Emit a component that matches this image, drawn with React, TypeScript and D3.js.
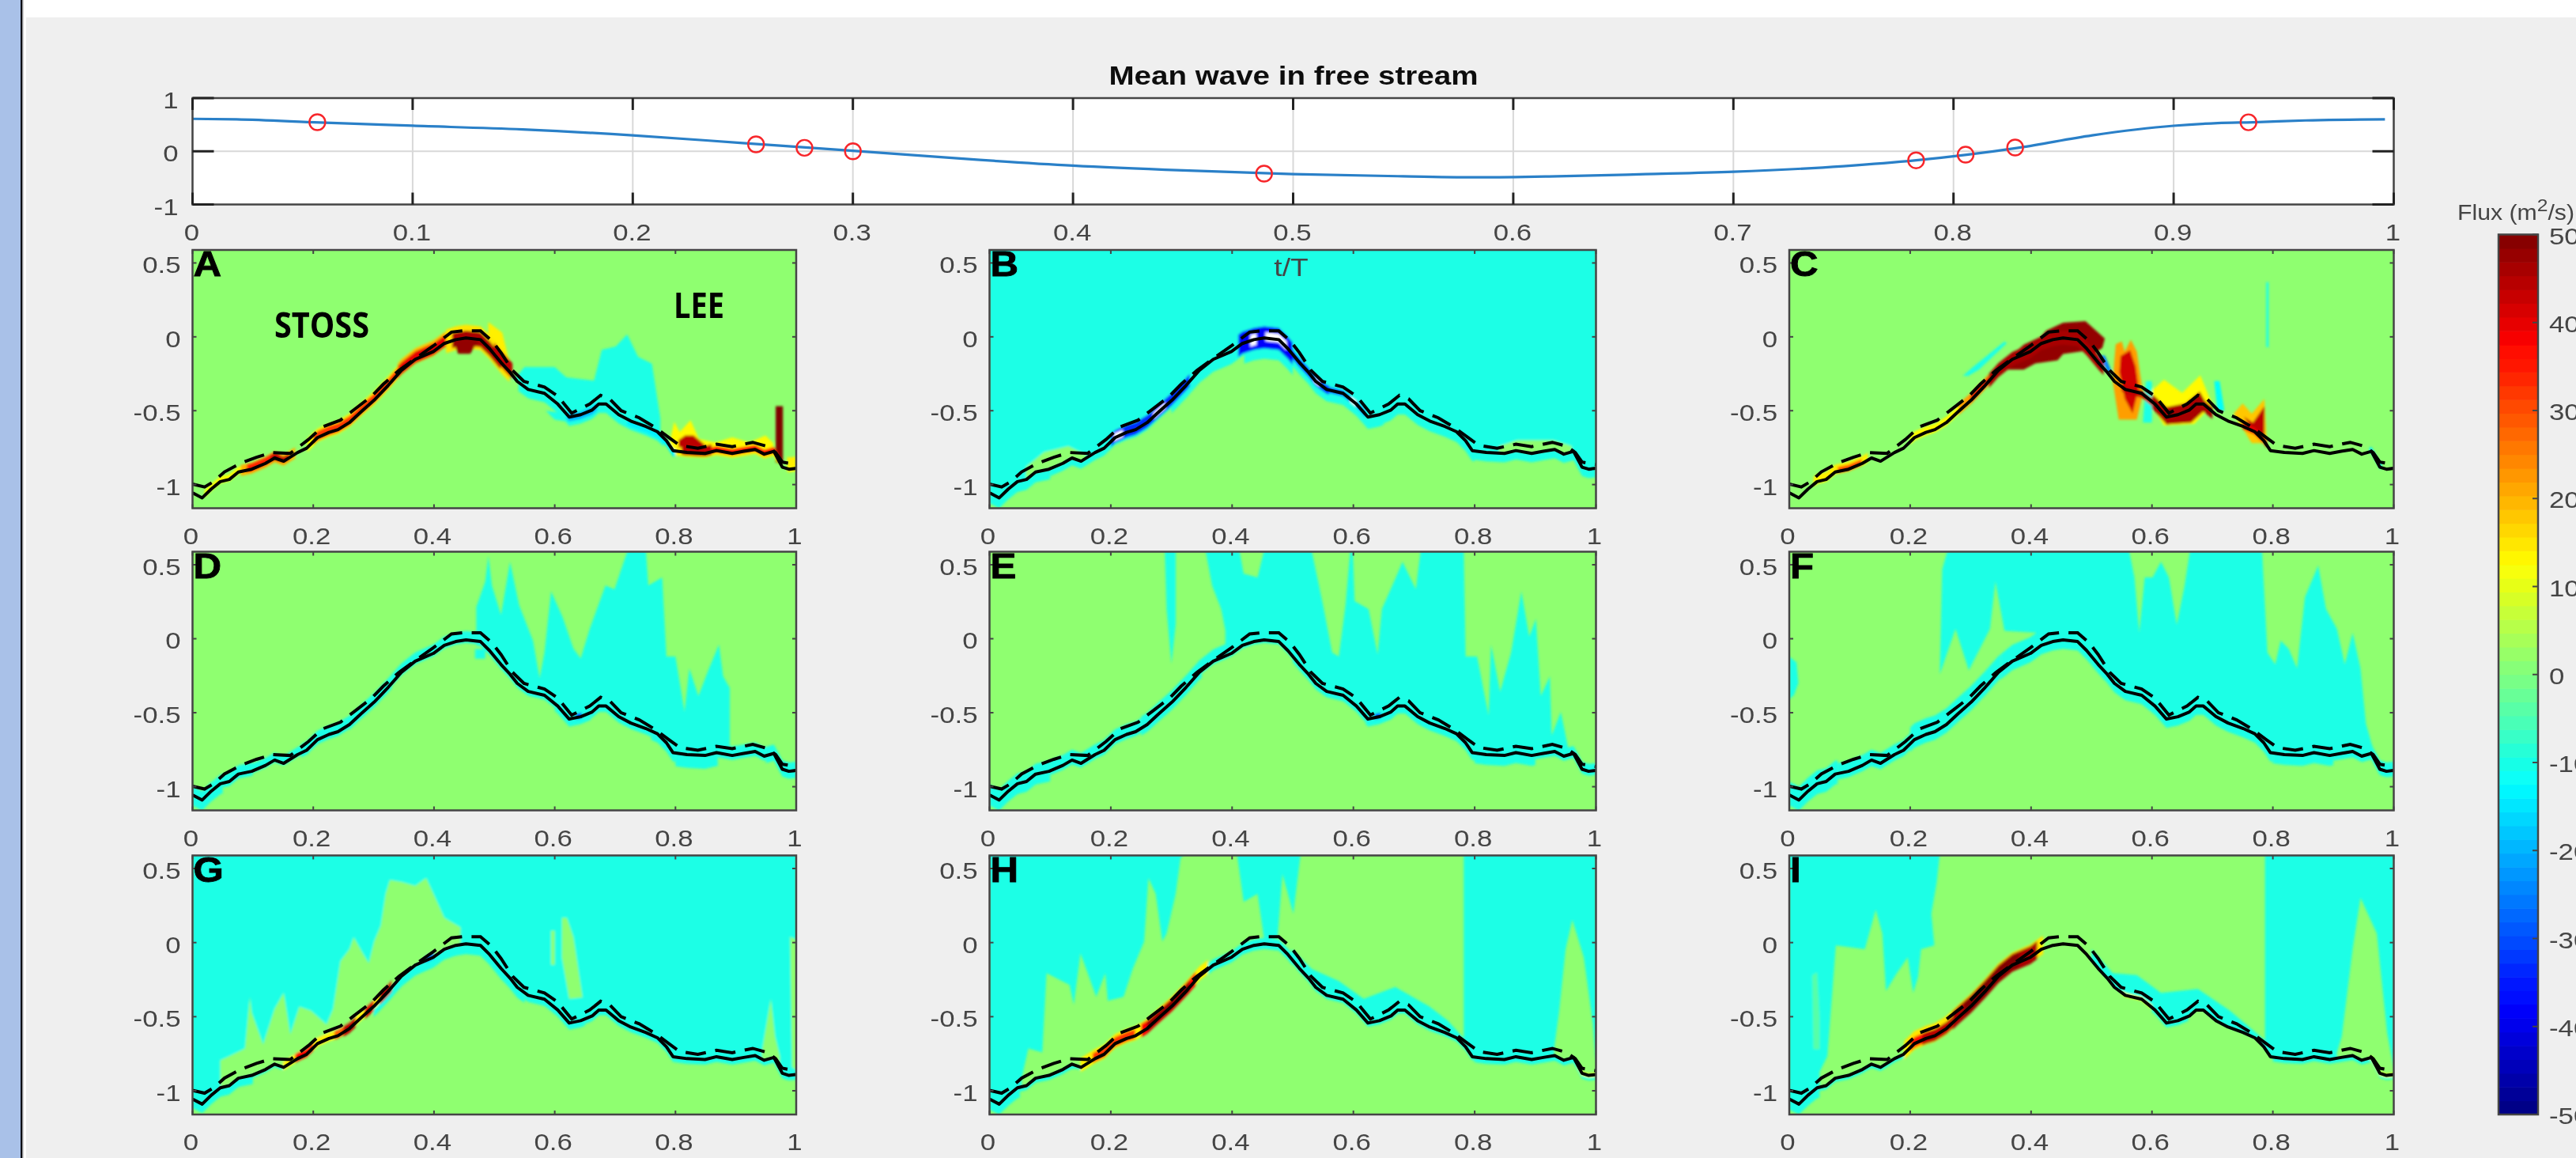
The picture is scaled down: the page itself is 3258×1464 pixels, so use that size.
import React from "react";
import * as d3 from "d3";

// ---------- top axis ----------
const waveX = [0, 0.02, 0.058, 0.1, 0.15, 0.2, 0.25, 0.3, 0.35, 0.4, 0.45, 0.5, 0.55, 0.585, 0.62, 0.66, 0.7, 0.75, 0.783, 0.806, 0.83, 0.863, 0.9, 0.92, 0.936, 0.96, 0.996];
const waveY = [0.61, 0.6, 0.54, 0.48, 0.41, 0.3, 0.155, 0.01, -0.14, -0.27, -0.36, -0.43, -0.47, -0.49, -0.47, -0.43, -0.385, -0.28, -0.17, -0.065, 0.07, 0.3, 0.48, 0.53, 0.545, 0.58, 0.6];
const markerX = [0.0567, 0.256, 0.278, 0.3, 0.4868, 0.783, 0.8055, 0.828, 0.934];
const markerY = [0.547, 0.13, 0.065, 0, -0.42, -0.17, -0.064, 0.07, 0.545];
const waveXTicks = [0, 0.1, 0.2, 0.3, 0.4, 0.5, 0.6, 0.7, 0.8, 0.9, 1];
const waveYTicks = [-1, 0, 1];

// ---------- bed profile ----------
const bedX = [0, 0.016, 0.031, 0.046, 0.061, 0.076, 0.098, 0.121, 0.136, 0.151, 0.174, 0.189, 0.207, 0.226, 0.241, 0.26, 0.279, 0.301, 0.324, 0.346, 0.369, 0.399, 0.417, 0.436, 0.453, 0.477, 0.492, 0.511, 0.526, 0.538, 0.556, 0.583, 0.605, 0.624, 0.643, 0.662, 0.673, 0.685, 0.706, 0.726, 0.751, 0.77, 0.785, 0.796, 0.819, 0.849, 0.868, 0.894, 0.913, 0.932, 0.947, 0.963, 0.977, 0.988, 1];
const bedY = [-1.056, -1.09, -1.03, -0.98, -0.965, -0.915, -0.896, -0.856, -0.82, -0.842, -0.783, -0.754, -0.682, -0.647, -0.628, -0.58, -0.508, -0.428, -0.329, -0.227, -0.152, -0.099, -0.045, -0.019, -0.008, -0.019, -0.08, -0.174, -0.24, -0.302, -0.356, -0.382, -0.455, -0.543, -0.527, -0.495, -0.455, -0.455, -0.527, -0.57, -0.607, -0.642, -0.703, -0.77, -0.783, -0.789, -0.77, -0.789, -0.775, -0.762, -0.794, -0.775, -0.882, -0.896, -0.89];
const crestX = [0, 0.02, 0.035, 0.053, 0.08, 0.106, 0.132, 0.162, 0.192, 0.215, 0.245, 0.267, 0.297, 0.316, 0.342, 0.369, 0.399, 0.429, 0.447, 0.477, 0.496, 0.511, 0.53, 0.549, 0.583, 0.605, 0.628, 0.658, 0.676, 0.691, 0.71, 0.74, 0.767, 0.789, 0.807, 0.837, 0.868, 0.894, 0.928, 0.951, 0.966, 0.977, 1];
const crestY = [-0.997, -1.016, -0.98, -0.914, -0.855, -0.815, -0.783, -0.789, -0.695, -0.61, -0.564, -0.495, -0.401, -0.321, -0.227, -0.147, -0.061, 0.032, 0.04, 0.04, -0.027, -0.107, -0.227, -0.302, -0.34, -0.401, -0.516, -0.455, -0.396, -0.42, -0.5, -0.548, -0.615, -0.682, -0.735, -0.754, -0.727, -0.743, -0.714, -0.74, -0.783, -0.848, -0.864];

// ---------- shared ticks ----------
const panelXTicks = [0, 0.2, 0.4, 0.6, 0.8, 1];
const panelYTicks = [-1, -0.5, 0, 0.5];
const barTicks = [-50, -40, -30, -20, -10, 0, 10, 20, 30, 40, 50];
const panelLetters = ["A", "B", "C", "D", "E", "F", "G", "H", "I"];

const QUIET = 1.5;
const CYAN = -10;

// ---------- regions: [x, depth] outlines ----------
const aCyan = [[0.531, -0.297], [0.55, -0.204], [0.6, -0.204], [0.619, -0.274], [0.665, -0.297], [0.678, -0.088], [0.701, -0.065], [0.72, 0.016], [0.738, -0.135], [0.761, -0.181], [0.775, -0.552]];
const aYellow = [[0.789, -0.738], [0.798, -0.575], [0.807, -0.645], [0.825, -0.564], [0.839, -0.691], [0.867, -0.715], [0.894, -0.68], [0.922, -0.715], [0.949, -0.668], [0.962, -0.72]];
const aRed = [[0.805, -0.7], [0.816, -0.668], [0.83, -0.668], [0.857, -0.76]];
const aSpike = [[0.966, -0.85], [0.966, -0.47], [0.978, -0.47], [0.978, -0.86]];
const aCrest = [[0.49, 0.1], [0.513, 0.028], [0.527, -0.204], [0.49, -0.06]];
const aDrip = [[0.43, -0.02], [0.475, -0.02], [0.46, -0.115], [0.44, -0.115]];
const aSpeck = [[0.585, -0.5], [0.62, -0.52], [0.63, -0.58], [0.6, -0.56]];

const allAbove = [[0, 0.6], [1, 0.6]];
const bGreen1 = [[0.06, -0.88], [0.09, -0.78], [0.13, -0.74], [0.16, -0.8]];
const bGreen2 = [[0.84, -0.74], [0.87, -0.7], [0.93, -0.7], [0.96, -0.74]];

const cDark = [[0.416, 0], [0.425, 0.042], [0.453, 0.095], [0.49, 0.106], [0.522, -0.011], [0.518, -0.074], [0.499, -0.127], [0.49, -0.095], [0.453, -0.116], [0.444, -0.159], [0.407, -0.18], [0.388, -0.222], [0.36, -0.222], [0.342, -0.243], [0.365, -0.137], [0.388, -0.053]];
const cHalo2 = [[0.54, -0.05], [0.55, -0.03], [0.555, -0.1], [0.565, -0.02], [0.575, -0.1], [0.585, -0.38], [0.575, -0.56], [0.545, -0.56], [0.535, -0.3]];
const cRed2 = [[0.548, -0.13], [0.564, -0.09], [0.573, -0.2], [0.578, -0.349], [0.568, -0.518], [0.555, -0.42], [0.546, -0.24]];
const cYellow3 = [[0.59, -0.4], [0.62, -0.29], [0.65, -0.38], [0.68, -0.26], [0.7, -0.46], [0.67, -0.59], [0.62, -0.6]];
const cDark3 = [[0.601, -0.391], [0.624, -0.476], [0.655, -0.45], [0.679, -0.37], [0.693, -0.476], [0.665, -0.581], [0.624, -0.592], [0.6, -0.43]];
const cHalo4 = [[0.735, -0.52], [0.75, -0.45], [0.765, -0.52], [0.786, -0.42], [0.79, -0.72], [0.765, -0.72]];
const cDark4 = [[0.752, -0.54], [0.767, -0.58], [0.786, -0.47], [0.786, -0.687], [0.772, -0.666]];
const cStreak = [[0.287, -0.264], [0.305, -0.2], [0.356, -0.032], [0.36, -0.042], [0.314, -0.222], [0.296, -0.264]];
const cThin = [[0.789, 0.37], [0.793, 0.37], [0.793, -0.07], [0.789, -0.07]];
const cBlue = [[0.513, -0.127], [0.522, -0.127], [0.534, -0.24], [0.527, -0.24]];
const cCyan2 = [[0.59, -0.3], [0.6, -0.3], [0.6, -0.58], [0.585, -0.58]];
const cCyan3 = [[0.703, -0.3], [0.712, -0.3], [0.72, -0.5], [0.708, -0.5]];

const dCyan = [[0.47, 0.013], [0.47, 0.214], [0.485, 0.388], [0.49, 0.56], [0.496, 0.36], [0.511, 0.16], [0.526, 0.52], [0.541, 0.227], [0.564, -0.013], [0.575, -0.267], [0.583, -0.094], [0.594, 0.32], [0.613, 0.147], [0.631, -0.067], [0.643, -0.134], [0.658, 0.067], [0.684, 0.36], [0.699, 0.334], [0.721, 0.6], [0.751, 0.6], [0.755, 0.36], [0.778, 0.414], [0.785, -0.12], [0.8, -0.12], [0.815, -0.495], [0.823, -0.2], [0.838, -0.388], [0.853, -0.227], [0.872, -0.04], [0.879, -0.254], [0.89, -0.334], [0.89, -0.735]];
const dSpeck = [[0.468, -0.07], [0.485, -0.07], [0.485, -0.135], [0.468, -0.135]];

const eStrip = [[0.289, 0.6], [0.307, 0.6], [0.307, 0.1], [0.3, -0.17], [0.292, 0.2]];
const eCyan = [[0.389, 0.053], [0.382, 0.2], [0.367, 0.36], [0.356, 0.6], [0.412, 0.6], [0.419, 0.44], [0.442, 0.414], [0.453, 0.6], [0.531, 0.6], [0.55, 0.227], [0.565, -0.094], [0.576, -0.12], [0.587, 0.227], [0.595, 0.6], [0.599, 0.6], [0.602, 0.254], [0.625, 0.2], [0.64, -0.107], [0.647, 0.2], [0.67, 0.414], [0.681, 0.52], [0.703, 0.334], [0.711, 0.6], [0.782, 0.6], [0.785, -0.12], [0.804, -0.12], [0.823, -0.52], [0.827, -0.04], [0.842, -0.36], [0.86, -0.094], [0.877, 0.32], [0.89, 0.013], [0.901, 0.134], [0.909, -0.388], [0.924, -0.254], [0.927, -0.655], [0.942, -0.495], [0.954, -0.735]];

const fSliver = [[0, -0.12], [0.012, -0.16], [0.015, -0.3], [0.008, -0.38], [0, -0.41]];
const fCyan = [[0.412, 0.04], [0.356, 0.053], [0.341, 0.388], [0.332, 0.067], [0.297, -0.214], [0.275, 0.067], [0.249, -0.24], [0.253, 0.468], [0.262, 0.6], [0.562, 0.6], [0.571, 0.414], [0.579, 0.04], [0.588, 0.414], [0.601, 0.414], [0.615, 0.52], [0.628, 0.414], [0.641, 0.094], [0.654, 0.36], [0.663, 0.6], [0.782, 0.6], [0.791, -0.094], [0.804, -0.174], [0.813, -0.013], [0.826, -0.067], [0.84, -0.2], [0.853, 0.28], [0.875, 0.495], [0.888, 0.2], [0.906, 0.067], [0.919, -0.174], [0.932, 0.04], [0.945, -0.2], [0.954, -0.575], [0.967, -0.762]];

const gGreen = [[0.444, 0.102], [0.417, 0.168], [0.399, 0.329], [0.387, 0.436], [0.369, 0.382], [0.346, 0.409], [0.327, 0.422], [0.32, 0.329], [0.312, 0.115], [0.301, 0.008], [0.292, -0.139], [0.282, -0.072], [0.267, 0.035], [0.26, -0.045], [0.245, -0.126], [0.233, -0.447], [0.222, -0.553], [0.196, -0.46], [0.177, -0.433], [0.162, -0.62], [0.151, -0.34], [0.136, -0.447], [0.117, -0.687], [0.098, -0.473], [0.095, -0.366], [0.087, -0.714], [0.061, -0.767], [0.046, -0.794]];
const gGreen2 = [[0.612, 0.168], [0.62, 0.168], [0.631, 0.035], [0.646, -0.37], [0.624, -0.38], [0.612, -0.1]];
const gGreen3 = [[0.943, -0.74], [0.958, -0.38], [0.965, -0.634], [0.973, -0.767]];
const gGreen4 = [[0.99, 0.04], [1, 0.02], [1, -0.86], [0.993, -0.84]];
const gGreen5 = [[0.594, 0.08], [0.6, 0.08], [0.6, -0.15], [0.594, -0.15]];

const hLeft = [[0, 0.6], [0.322, 0.6], [0.315, 0.57], [0.307, 0.329], [0.292, 0.061], [0.285, 0.008], [0.274, 0.329], [0.262, 0.436], [0.255, 0.008], [0.236, -0.179], [0.221, -0.366], [0.195, -0.393], [0.191, -0.206], [0.176, -0.366], [0.15, -0.072], [0.139, -0.42], [0.132, -0.286], [0.094, -0.206], [0.087, -0.741], [0.064, -0.714], [0.053, -0.914]];
const hMiddle = [[0.408, 0.6], [0.419, 0.275], [0.442, 0.329], [0.453, 0.02], [0.475, 0.035], [0.483, 0.463], [0.501, 0.195], [0.513, 0.6]];
const hFringe = [[0.498, -0.045], [0.532, -0.179], [0.576, -0.259], [0.617, -0.38], [0.669, -0.3], [0.726, -0.433], [0.756, -0.527], [0.785, -0.66]];
const hRight = [[0.782, -0.7], [0.782, 0.6], [1, 0.6], [1, -0.82], [0.995, -0.553], [0.98, -0.1], [0.961, 0.155], [0.95, -0.045], [0.939, -0.473], [0.931, -0.714]];

const iLeft = [[0, 0.6], [0.249, 0.6], [0.244, 0.409], [0.235, 0.195], [0.24, -0.019], [0.218, -0.045], [0.213, -0.233], [0.205, -0.34], [0.196, -0.099], [0.178, -0.206], [0.16, -0.326], [0.154, 0.061], [0.143, 0.222], [0.125, -0.045], [0.077, -0.019], [0.063, -0.767], [0.05, -0.874]];
const iWisp = [[0.038, -0.22], [0.046, -0.2], [0.05, -0.5], [0.05, -0.72], [0.04, -0.72]];
const iRight = [[0.787, -0.7], [0.787, 0.6], [1, 0.6], [1, -0.85], [0.989, -0.607], [0.972, 0.061], [0.945, 0.302], [0.932, -0.045], [0.914, -0.634], [0.906, -0.741]];
const iFringe = [[0.5, -0.045], [0.535, -0.206], [0.575, -0.219], [0.615, -0.34], [0.676, -0.313], [0.729, -0.46], [0.787, -0.66]];

// ---------- bands along the bed: [from x, to x, depth below, height above, flux] ----------
const aBands = [[0.54, 0.78, 0.06, 0.02, CYAN], [0.62, 0.67, 0.03, 0.02, -20], [0.72, 0.8, 0.04, 0.01, -14], [0.02, 0.09, 0.012, 0.035, 12], [0.08, 0.17, 0.03, 0.045, 20], [0.09, 0.145, 0.015, 0.04, 34], [0.13, 0.16, 0.012, 0.03, 44], [0.19, 0.34, 0.03, 0.06, 13], [0.2, 0.34, 0.02, 0.045, 32], [0.34, 0.43, 0.03, 0.075, 18], [0.34, 0.43, 0.025, 0.055, 40], [0.42, 0.525, 0.07, 0.09, 15], [0.43, 0.51, 0.05, 0.05, 46], [0.5, 0.53, 0.03, 0.08, 44], [0.8, 0.97, 0.03, 0.03, 14], [0.81, 0.86, 0.02, 0.05, 44], [0.86, 0.97, 0.012, 0.03, 36], [0.985, 1, 0.02, 0.08, 14]];
const bBands = [[0, 0.1, 0.07, 0, CYAN], [0.1, 0.3, 0.05, 0, CYAN], [0.3, 0.42, 0.085, 0, CYAN], [0.42, 0.5, 0.14, 0, CYAN], [0.5, 0.65, 0.08, 0, CYAN], [0.65, 0.8, 0.07, 0, CYAN], [0.8, 1, 0.06, 0, CYAN], [0.2, 0.33, 0.035, 0.05, -33], [0.41, 0.5, 0.07, 0.08, -38], [0.5, 0.56, 0.03, 0.03, -33], [0.56, 0.62, 0.02, 0.02, -28], [0.205, 0.22, 0.02, 0.03, 99], [0.27, 0.29, 0.015, 0.025, 99], [0.43, 0.44, 0.04, 0.04, 99], [0.455, 0.49, 0.02, 0.04, 99], [0.535, 0.545, 0.015, 0.015, 99], [0.595, 0.605, 0.02, 0.02, 99]];
const cBands = [[0.04, 0.13, 0.015, 0.05, 14], [0.08, 0.12, 0.012, 0.03, 30], [0.2, 0.3, 0.02, 0.04, 13], [0.28, 0.33, 0.025, 0.05, 22], [0.3, 0.33, 0.015, 0.035, 40], [0.33, 0.52, 0.045, 0.05, 46], [0.55, 0.6, 0.03, 0.02, 44], [0.6, 0.7, 0.05, 0.03, 46], [0.75, 0.79, 0.02, 0.03, 40], [0.96, 0.98, 0.01, 0.03, -14]];
const dBands = [[0, 0.05, 0.07, 0.06, CYAN], [0.05, 0.1, 0.03, 0.06, CYAN], [0.1, 0.18, 0.015, 0.05, CYAN], [0.18, 0.26, 0.03, 0.06, CYAN], [0.26, 0.33, 0.035, 0.06, CYAN], [0.33, 0.47, 0.02, 0.06, CYAN], [0.47, 0.6, 0.03, 0.05, CYAN], [0.6, 0.66, 0.05, 0.05, CYAN], [0.66, 0.76, 0.04, 0.05, CYAN], [0.76, 0.8, 0.06, 0.05, CYAN], [0.8, 0.87, 0.09, 0.06, CYAN], [0.87, 0.95, 0.03, 0.06, CYAN], [0.95, 1, 0.05, 0.06, CYAN], [0.635, 0.645, 0.012, 0.025, -30]];
const eBands = [[0, 0.1, 0.07, 0.07, CYAN], [0.1, 0.25, 0.03, 0.07, CYAN], [0.25, 0.35, 0.05, 0.08, CYAN], [0.35, 0.5, 0.02, 0.08, CYAN], [0.5, 0.62, 0.04, 0.03, CYAN], [0.62, 0.8, 0.05, 0.05, CYAN], [0.8, 0.9, 0.07, 0.05, CYAN], [0.9, 1, 0.03, 0.05, CYAN], [0.635, 0.645, 0.012, 0.025, -30]];
const fBands = [[0, 0.08, 0.07, 0.09, CYAN], [0.08, 0.2, 0.04, 0.07, CYAN], [0.2, 0.35, 0.055, 0.11, CYAN], [0.35, 0.5, 0.06, 0.11, CYAN], [0.5, 0.62, 0.06, 0.05, CYAN], [0.62, 0.8, 0.06, 0.05, CYAN], [0.8, 0.9, 0.07, 0.06, CYAN], [0.9, 1, 0.04, 0.06, CYAN]];
const gBands = [[0, 0.1, 0.06, 0, CYAN], [0.1, 0.3, 0.02, 0, CYAN], [0.3, 0.55, 0.07, 0, CYAN], [0.55, 0.65, 0.045, 0, CYAN], [0.65, 0.8, 0.035, 0, CYAN], [0.8, 1, 0.035, 0, CYAN], [0.15, 0.33, 0.02, 0.04, 14], [0.17, 0.2, 0.02, 0.04, 38], [0.235, 0.27, 0.02, 0.04, 28], [0.25, 0.27, 0.03, 0.045, 44], [0.285, 0.3, 0.03, 0.045, 42], [0.31, 0.33, 0.03, 0.05, 44], [0.385, 0.4, 0.012, 0.03, -25]];
const hBands = [[0, 0.05, 0.07, 0.01, CYAN], [0.05, 0.14, 0.03, 0, CYAN], [0.14, 0.36, 0.02, 0, CYAN], [0.36, 0.5, 0.035, 0.04, CYAN], [0.5, 0.8, 0.025, 0, CYAN], [0.8, 1, 0.035, 0, CYAN], [0.15, 0.36, 0.03, 0.065, 14], [0.17, 0.24, 0.02, 0.045, 32], [0.25, 0.34, 0.035, 0.055, 38], [0.26, 0.33, 0.025, 0.045, 48], [0.97, 1, 0.015, 0.01, 12]];
const iBands = [[0, 0.05, 0.07, 0.01, CYAN], [0.05, 0.19, 0.025, 0, CYAN], [0.8, 1, 0.03, 0, CYAN], [0.6, 0.66, 0.03, 0, CYAN], [0.19, 0.42, 0.04, 0.085, 15], [0.2, 0.25, 0.025, 0.045, 36], [0.22, 0.27, 0.035, 0.045, 44], [0.27, 0.41, 0.045, 0.075, 46], [0.29, 0.38, 0.03, 0.06, 50], [0.55, 0.6, 0.01, 0.015, 13], [0.96, 1, 0.015, 0.01, 12]];

// [outline, flux, closed along the bed?]
const aRegions = [[aCyan, CYAN, true], [aYellow, 13, true], [aRed, 44, true], [aSpike, 50, false], [aCrest, 14, false], [aSpeck, CYAN, false]];
const aLate = [[aDrip, 48, false]];
const bRegions = [[allAbove, CYAN, true], [bGreen1, QUIET, true], [bGreen2, QUIET, true]];
const cRegions = [[cYellow3, 13, false], [cDark, 48, false], [cHalo2, 22, false], [cRed2, 42, false], [cDark3, 46, false], [cHalo4, 18, false], [cDark4, 44, false], [cStreak, CYAN, false], [cThin, CYAN, false], [cBlue, -25, false], [cCyan2, CYAN, false], [cCyan3, -12, false]];
const dRegions = [[dCyan, CYAN, true], [dSpeck, CYAN, false]];
const eRegions = [[eStrip, CYAN, false], [eCyan, CYAN, true]];
const fRegions = [[fSliver, CYAN, false], [fCyan, CYAN, true]];
const gRegions = [[allAbove, CYAN, true], [gGreen, QUIET, true], [gGreen2, QUIET, false], [gGreen3, QUIET, true], [gGreen4, QUIET, false], [gGreen5, QUIET, false]];
const hRegions = [[hLeft, CYAN, true], [hMiddle, CYAN, false], [hFringe, CYAN, true], [hRight, CYAN, true]];
const iRegions = [[iLeft, CYAN, true], [iWisp, -4, false], [iRight, CYAN, true], [iFringe, CYAN, true]];

const regionsByPanel = [aRegions, bRegions, cRegions, dRegions, eRegions, fRegions, gRegions, hRegions, iRegions];
const bandsByPanel = [aBands, bBands, cBands, dBands, eBands, fBands, gBands, hBands, iBands];
const lateByPanel = [aLate, [], [], [], [], [], [], [], []];

// ---------- layout ----------
const W = 3258, H = 1464;
const colL = [243.5, 1251.5, 2263];
const colR = [1007, 2018.5, 3027.5];
const rowT = [316, 697.5, 1081.5];
const rowB = [642.5, 1024.5, 1409];
const inkAxis = "#444444";
const inkText = "#454545";

const jetStops = [[0, "#00007f"], [0.11, "#0000f5"], [0.125, "#0000ff"], [0.375, "#00ffff"], [0.625, "#ffff00"], [0.875, "#ff0000"], [1, "#7f0000"]];
const jetScale = d3.scaleLinear<string>()
  .domain(jetStops.map((s) => (s[0] as number) * 100 - 50))
  .range(jetStops.map((s) => s[1] as string))
  .interpolate(d3.interpolateRgb)
  .clamp(true);
const jet = (v: number) => (v > 50 ? "#ffffff" : jetScale(v));

const bedAt = d3.scaleLinear().domain(bedX).range(bedY);

function Label({ x, y, anchor = "middle", size = 30, sx = 1.16, children }: any) {
  return (
    <text transform={`translate(${x},${y}) scale(${sx},1)`} textAnchor={anchor} fontFamily="'Liberation Sans', Arial, sans-serif" fontSize={size} fill={inkText}>
      {children}
    </text>
  );
}

function Panel({ index }: { index: number }) {
  const c = index % 3, r = Math.floor(index / 3);
  const L = colL[c], R = colR[c], T = rowT[r], B = rowB[r];
  const x = d3.scaleLinear().domain([0, 1]).range([L, R]);
  const y = d3.scaleLinear().domain([-1.16, 0.588]).range([B, T]);
  const line = d3.line<number>().x((_, i) => x(bedX[i])).y((d) => y(d));
  const crest = d3.line<number>().x((_, i) => x(crestX[i])).y((d) => y(d));
  const poly = d3.line<any>().x((d) => x(d[0])).y((d) => y(d[1]));
  const clip = `clip-${index}`;

  const regionPath = (pts: number[][], closed: boolean) => {
    if (!closed) return poly(pts) + "Z";
    const first = pts[0][0], last = pts[pts.length - 1][0];
    const lo = Math.min(first, last), hi = Math.max(first, last);
    let along = bedX.filter((v) => v > lo && v < hi).map((v) => [v, bedAt(v)]);
    if (last > first) along = along.reverse();
    return poly([...pts, [last, bedAt(last)], ...along, [first, bedAt(first)]]) + "Z";
  };
  const bandPath = (b: number[]) => {
    const xs = [b[0], ...bedX.filter((v) => v > b[0] && v < b[1]), b[1]];
    return d3.area<number>()
      .x((v) => x(v))
      .y0((v) => y(bedAt(v) - b[2]))
      .y1((v) => y(bedAt(v) + b[3]))(xs) as string;
  };

  return (
    <g>
      <clipPath id={clip}><rect x={L} y={T} width={R - L} height={B - T} /></clipPath>
      <g clipPath={`url(#${clip})`}>
        <rect x={L} y={T} width={R - L} height={B - T} fill={jet(QUIET)} />
        <g filter="url(#soft)">
          {regionsByPanel[index].map((g: any, i) => (
            <path key={i} d={regionPath(g[0], g[2])} fill={jet(g[1])} />
          ))}
          {bandsByPanel[index].map((b, i) => (
            <path key={i} d={bandPath(b)} fill={jet(b[4])} />
          ))}
          {lateByPanel[index].map((g: any, i) => (
            <path key={i} d={regionPath(g[0], g[2])} fill={jet(g[1])} />
          ))}
        </g>
        <path d={crest(crestY) as string} fill="none" stroke="#000" strokeWidth={4} strokeDasharray="26 12" />
        <path d={line(bedY) as string} fill="none" stroke="#000" strokeWidth={4} strokeLinejoin="round" />
      </g>
      <rect x={L} y={T} width={R - L} height={B - T} fill="none" stroke={inkAxis} strokeWidth={2.5} />
      {panelXTicks.map((t) => (
        <g key={t}>
          <line x1={x(t)} x2={x(t)} y1={T} y2={T + 5} stroke={inkAxis} strokeWidth={2} />
          <line x1={x(t)} x2={x(t)} y1={B} y2={B - 5} stroke={inkAxis} strokeWidth={2} />
          <Label x={x(t) - 2} y={B + 45}>{String(t)}</Label>
        </g>
      ))}
      {panelYTicks.map((t) => (
        <g key={t}>
          <line x1={L} x2={L + 5} y1={y(t)} y2={y(t)} stroke={inkAxis} strokeWidth={2} />
          <line x1={R} x2={R - 5} y1={y(t)} y2={y(t)} stroke={inkAxis} strokeWidth={2} />
          <Label x={L - 15} y={y(t) + 13} anchor="end">{String(t)}</Label>
        </g>
      ))}
      <text transform={`translate(${L + 1},${T + 33}) scale(1.12,1)`} stroke="#000" strokeWidth={0.8} fontFamily="'Liberation Sans', Arial, sans-serif" fontWeight="bold" fontSize={44} fill="#000">{panelLetters[index]}</text>
    </g>
  );
}

function Wave() {
  const L = 243.5, R = 3027.5, T = 124, B = 258.5;
  const x = d3.scaleLinear().domain([0, 1]).range([L, R]);
  const y = d3.scaleLinear().domain([-1, 1]).range([B, T]);
  const line = d3.line<number>().x((_, i) => x(waveX[i])).y((d) => y(d)).curve(d3.curveMonotoneX);
  return (
    <g>
      <rect x={L} y={T} width={R - L} height={B - T} fill="#fff" />
      {waveXTicks.map((t) => (
        <line key={t} x1={x(t)} x2={x(t)} y1={T} y2={B} stroke="#d8d8d8" strokeWidth={2} />
      ))}
      <line x1={L} x2={R} y1={y(0)} y2={y(0)} stroke="#d8d8d8" strokeWidth={2} />
      <path d={line(waveY) as string} fill="none" stroke="#2a80c8" strokeWidth={3.2} />
      {markerX.map((m, i) => (
        <circle key={i} cx={x(m)} cy={y(markerY[i])} r={10} fill="none" stroke="#f7262c" strokeWidth={2.4} />
      ))}
      <rect x={L} y={T} width={R - L} height={B - T} fill="none" stroke={inkAxis} strokeWidth={2.5} />
      {waveXTicks.map((t) => (
        <g key={t}>
          <line x1={x(t)} x2={x(t)} y1={T} y2={T + 15} stroke="#222" strokeWidth={3} />
          <line x1={x(t)} x2={x(t)} y1={B} y2={B - 15} stroke="#222" strokeWidth={3} />
          <Label x={x(t) - 1} y={B + 45}>{String(t)}</Label>
        </g>
      ))}
      {waveYTicks.map((t) => (
        <g key={t}>
          <line x1={L} x2={L + 27} y1={y(t)} y2={y(t)} stroke="#222" strokeWidth={3} />
          <line x1={R} x2={R - 27} y1={y(t)} y2={y(t)} stroke="#222" strokeWidth={3} />
          <Label x={L - 18} y={y(t) + 13} anchor="end">{String(t)}</Label>
        </g>
      ))}
      <text x={1636} y={107} textAnchor="middle" textLength={467} lengthAdjust="spacingAndGlyphs" fontFamily="'Liberation Sans', Arial, sans-serif" fontWeight="bold" fontSize={34} fill="#111">Mean wave in free stream</text>
    </g>
  );
}

function Colorbar() {
  const L = 3160, R = 3210;
  const y = d3.scaleLinear().domain([-50, 50]).range([1409, 296.5]);
  const levels = d3.range(64);
  const step = 100 / 64;
  return (
    <g>
      {levels.map((k) => {
        const lo = -50 + k * step;
        return <rect key={k} x={L} y={y(lo + step)} width={R - L} height={y(lo) - y(lo + step) + 0.6} fill={jet(lo + step / 2)} />;
      })}
      <rect x={L} y={296.5} width={R - L} height={1409 - 296.5} fill="none" stroke={inkAxis} strokeWidth={2.5} />
      {barTicks.map((t) => (
        <g key={t}>
          <line x1={R} x2={R - 7} y1={y(t)} y2={y(t)} stroke={inkAxis} strokeWidth={2} />
          <Label x={3224} y={y(t) + 12} anchor="start">{String(t)}</Label>
        </g>
      ))}
      <text transform="translate(3108,278) scale(1.12,1)" fontFamily="'Liberation Sans', Arial, sans-serif" fontSize={27} fill={inkText}>
        Flux (m<tspan dy={-11} fontSize={22}>2</tspan><tspan dy={11}>/s)</tspan>
      </text>
    </g>
  );
}

export default function App() {
  return (
    <svg width={W} height={H} viewBox={`0 0 ${W} ${H}`} style={{ position: "absolute", left: 0, top: 0, display: "block" }}>
      <defs>
        <filter id="soft" x="-5%" y="-5%" width="110%" height="110%">
          <feGaussianBlur stdDeviation={1.6} />
        </filter>
        <filter id="lens" filterUnits="userSpaceOnUse" x={0} y={0} width={W} height={H}>
          <feGaussianBlur stdDeviation={0.7} />
        </filter>
      </defs>
      <rect width={W} height={H} fill="#ffffff" />
      <rect x={33} y={22} width={W - 33} height={H - 22} fill="#efefef" />
      <rect x={0} y={0} width={26} height={H} fill="#a9c1e8" />
      <rect x={26} y={0} width={2.5} height={H} fill="#0b0b14" />
      <rect x={28.5} y={0} width={1} height={H} fill="#a0a0a0" />
      <g filter="url(#lens)">
        <Wave />
        {panelLetters.map((_, i) => <Panel key={i} index={i} />)}
        <Label x={1633} y={349} size={32}>t/T</Label>
        <text x={347} y={427} textLength={120} lengthAdjust="spacingAndGlyphs" fontFamily="'Open Sans', sans-serif" fontWeight="bold" fontSize={44} fill="#000">STOSS</text>
        <text x={852} y={402} textLength={64} lengthAdjust="spacingAndGlyphs" fontFamily="'Open Sans', sans-serif" fontWeight="bold" fontSize={44} fill="#000">LEE</text>
        <Colorbar />
      </g>
    </svg>
  );
}
